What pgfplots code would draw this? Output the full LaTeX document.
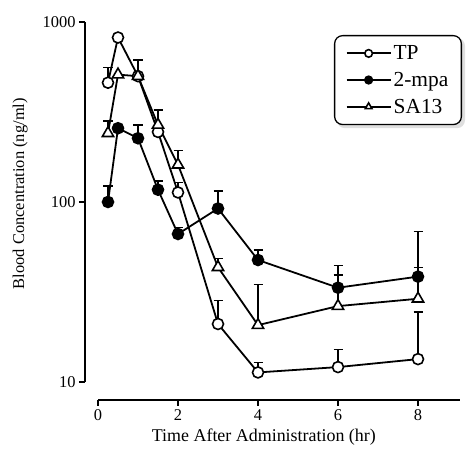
\documentclass[border=0pt]{standalone}
\usepackage{fontspec}
\setmainfont{Liberation Serif}
\usepackage{pgfplots}
\pgfplotsset{compat=1.18}
\usetikzlibrary{backgrounds}

\begin{document}
\begin{tikzpicture}
\begin{axis}[
  ymode=log,
  scale only axis,
  width=375bp, height=378bp,
  xmin=-0.325, xmax=9.05,
  ymin=7.943, ymax=1000,
  axis line style={draw=none},
  tick pos=left,
  tick align=outside,
  major tick length=6bp,
  every tick/.style={black, line width=1.6pt},
  xtick={0,2,4,6,8},
  ytick={10,100,1000},
  yticklabels={10,100,1000},
  yminorticks=false,
  /pgf/number format/assume math mode=true,
  ticklabel style={font=\fontsize{16.5}{19}\selectfont},
  xlabel={Time After Administration (hr)},
  ylabel={Blood Concentration (ng/ml)},
  xlabel style={font=\fontsize{18}{21}\selectfont, at={(axis description cs:0.477,-0.098)}, anchor=center},
  ylabel style={font=\fontsize{16.5}{19}\selectfont, at={(axis description cs:-0.173,0.546)}, anchor=center},
  every axis plot/.append style={black, line width=1.8pt},
  legend style={name=leg, at={(rel axis cs:1,1)}, anchor=north east, xshift=2bp, yshift=-13bp,
    draw=black, line width=1.3pt, rounded corners=8pt,
    font=\fontsize{21.5}{23}\selectfont, inner xsep=11bp, inner ysep=8bp,
    row sep=7bp,
    nodes={inner sep=2bp},
    /tikz/every even column/.append style={column sep=7bp}},
  legend cell align=left,
  legend image code/.code={\draw[mark repeat=2,mark phase=2,#1,line width=2pt,mark size=3.8bp]
    plot coordinates {(0bp,0bp) (22bp,0bp) (44bp,0bp)};},
]
% error bars (upper only), drawn under the markers
\pgfplotsset{errs/.style={forget plot, draw=none, mark=none,
  error bars/.cd, y dir=plus, y explicit,
  error bar style={draw=black, line width=1.4pt},
  error mark=-,
  error mark options={rotate=90, draw=black, line width=1.4pt, mark size=4.5bp}}}
\addplot[errs]
  coordinates {(0.25,460) +- (0,97) (1,500) +- (0,115) (1.5,245) +- (0,79)
    (2,113) +- (0,15) (3,21) +- (0,7.3) (4,11.3) +- (0,1.5)
    (6,12.1) +- (0,3.1) (8,13.4) +- (0,11.1)};
\addplot[errs]
  coordinates {(0.25,100) +- (0,23) (1,226) +- (0,42) (1.5,117) +- (0,14)
    (2,66.4) +- (0,6) (3,92) +- (0,23) (4,47.6) +- (0,6.5)
    (6,33.4) +- (0,11) (8,38.5) +- (0,30)};
\addplot[errs]
  coordinates {(0.25,241) +- (0,41) (1.5,268) +- (0,59) (2,161) +- (0,33)
    (3,43.4) +- (0,5.3) (4,20.7) +- (0,14.2) (6,26.4) +- (0,12.9)
    (8,29) +- (0,14.4)};

% means
\addplot[mark=*, mark size=5.5bp, mark options={fill=white, line width=1.6pt}]
  coordinates {(0.25,460) (0.5,820) (1,500) (1.5,245) (2,113) (3,21) (4,11.3) (6,12.1) (8,13.4)};
\addplot[mark=*, mark size=5.5bp, mark options={fill=black, line width=1.6pt}]
  coordinates {(0.25,100) (0.5,257) (1,226) (1.5,117) (2,66.4) (3,92) (4,47.6) (6,33.4) (8,38.5)};
\addplot[mark=triangle*, mark size=6.5bp, mark options={fill=white, line width=1.6pt}]
  coordinates {(0.25,241) (0.5,510) (1,500) (1.5,268) (2,161) (3,43.4) (4,20.7) (6,26.4) (8,29)};
\legend{TP, 2-mpa, SA13}

\coordinate (ya) at (axis cs:-0.325,10);
\coordinate (yb) at (axis cs:-0.325,1000);
\coordinate (xa) at (axis cs:0,7.943);
\coordinate (xb) at (axis cs:9.05,7.943);
\end{axis}
\draw[line width=1.8pt] (ya) -- (yb);
\draw[line width=1.8pt] (xa) -- (xb);
\begin{scope}[on background layer]
\fill[gray!25, rounded corners=8pt] ([shift={(3bp,-3bp)}]leg.south west) rectangle ([shift={(3bp,-3bp)}]leg.north east);
\end{scope}
\pgfresetboundingbox
\path (-85bp,-51bp) rectangle (383bp,400bp);
\end{tikzpicture}
\end{document}
